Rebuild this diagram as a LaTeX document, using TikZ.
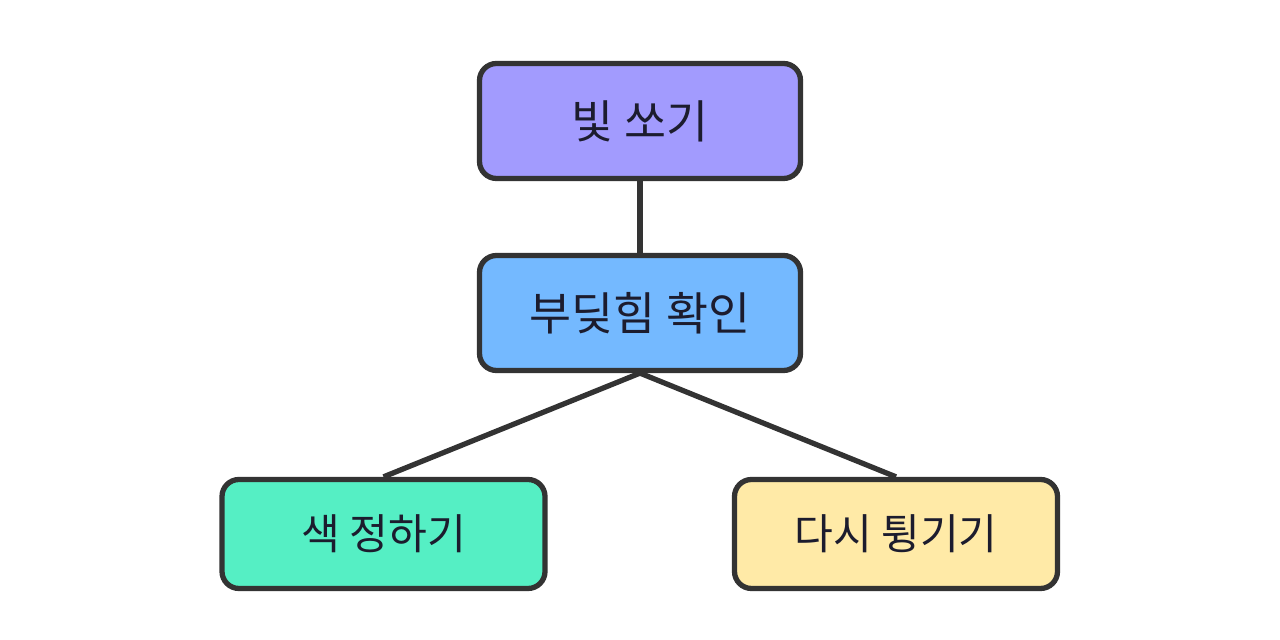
\documentclass[tikz,border=0pt]{standalone}
\usepackage{fontspec}
\newfontfamily\cjk{Noto Sans CJK KR}
\usepackage{tikz}
\usetikzlibrary{positioning}
\definecolor{Ink}{HTML}{333333}
\definecolor{Txt}{HTML}{1C1C2E}
\definecolor{Violet}{HTML}{A29BFE}
\definecolor{Sky}{HTML}{74B9FF}
\definecolor{Mint}{HTML}{55EFC4}
\definecolor{Cream}{HTML}{FFEAA7}
\begin{document}
\begin{tikzpicture}[font=\cjk\fontsize{26}{31}\selectfont,
  stepbox/.style={draw=Ink,line width=3pt,rounded corners=0.34cm,text=Txt,
    minimum width=6.42cm,minimum height=2.3cm,inner sep=0pt},
  leafbox/.style={stepbox,minimum width=6.46cm,minimum height=2.18cm,
    font=\cjk\fontsize{24}{29}\selectfont},
  link/.style={draw=Ink,line width=3pt}]
        \useasboundingbox (0,0) rectangle (25.6,12.8);
        \node[stepbox,fill=Violet] (shoot) at (12.8,10.38) {빛 쏘기};
        \node[stepbox,fill=Sky] (hit) at (12.8,6.54) {부딪힘 확인};
        \node[leafbox,fill=Mint] (paint) at (7.67,2.12) {색 정하기};
        \node[leafbox,fill=Cream] (bounce) at (17.92,2.12) {다시 튕기기};
        \draw[link] (shoot) -- (hit);
        \draw[link] (hit.south) -- (paint.north);
        \draw[link] (hit.south) -- (bounce.north);
      \end{tikzpicture}
\end{document}
